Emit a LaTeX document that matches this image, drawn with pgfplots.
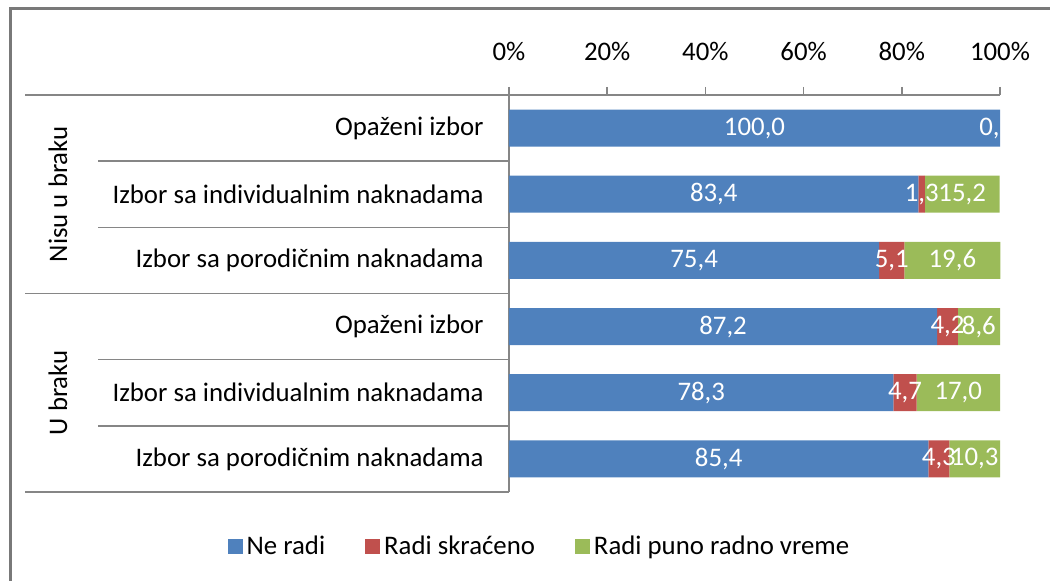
\documentclass[border=0pt]{standalone}
\usepackage{fontspec}
\setmainfont{Carlito}
\usepackage{pgfplots}
\pgfplotsset{compat=1.18}
\definecolor{neradi}{HTML}{4F81BD}
\definecolor{skraceno}{HTML}{C0504D}
\definecolor{puno}{HTML}{9BBB59}
\definecolor{axgray}{HTML}{868686}

\begin{document}
\fontsize{13.4}{16}\selectfont
\begin{tikzpicture}
% page frame, in pixel units of the reference
\begin{scope}[x=0.5pt,y=-0.5pt]
\useasboundingbox (0,0) rectangle (1050,581);
\draw[axgray!90!black, line width=1.5pt] (10,600) -- (10,8.5) -- (1070,8.5);
\end{scope}
\begin{axis}[
  at={(254.5pt,-246pt)}, anchor=south west,
  scale only axis, width=245.5pt, height=198.5pt,
  xbar stacked, bar width=18.5pt,
  xmin=0, xmax=100, ymin=0.5, ymax=6.5,
  clip=false,
  axis x line*=right, axis y line*=left,
  axis line style={axgray, line width=0.8pt, -},
  xtick={0,20,...,100},
  xticklabels={0\%,20\%,40\%,60\%,80\%,100\%},
  xticklabel shift=8.5pt,
  tick align=outside, major tick length=4pt,
  x tick style={axgray, line width=0.8pt},
  ytick={1,...,6}, y tick style={draw=none},
  yticklabels={Izbor sa porodičnim naknadama, Izbor sa individualnim naknadama, Opaženi izbor,
               Izbor sa porodičnim naknadama, Izbor sa individualnim naknadama, Opaženi izbor},
  yticklabel style={xshift=-4pt},
  visualization depends on=rawx \as \rawx,
  nodes near coords={\pgfmathprintnumber[fixed,fixed zerofill,precision=1,use comma,assume math mode=true]{\rawx}},
  every node near coord/.append style={white, anchor=center},
  legend style={at={(0.064,-0.1385)}, anchor=center, draw=none, legend columns=3,
                /tikz/every even column/.append style={column sep=18pt}},
  legend image code/.code={\fill[#1] (0pt,-3.75pt) rectangle (7.5pt,3.75pt);},
  % label of the zero-width segments, cut at the bar end as in the original
  after end axis/.append code={
    \node[white, anchor=east, inner xsep=0pt] at (axis cs:100,6) {0,};
  },
]
\addplot[fill=neradi, draw=none] coordinates {
  (85.4,1) (78.3,2) (87.2,3) (75.4,4) (83.4,5) (100.0,6)};
\addlegendentry{Ne radi}
\addplot[fill=skraceno, draw=none] coordinates {
  (4.3,1) (4.7,2) (4.2,3) (5.1,4) (1.3,5) (0.0,6)};
\addlegendentry{Radi skraćeno}
\addplot[fill=puno, draw=none] coordinates {
  (10.3,1) (17.0,2) (8.6,3) (19.6,4) (15.2,5) (0.0,6)};
\addlegendentry{Radi puno radno vreme}

% category axis grid
\draw[axgray, line width=0.8pt] (axis cs:0,6.5) -- ([xshift=-242pt]axis cs:0,6.5);
\draw[axgray, line width=0.8pt] (axis cs:0,3.5) -- ([xshift=-242pt]axis cs:0,3.5);
\draw[axgray, line width=0.8pt] (axis cs:0,0.5) -- ([xshift=-242pt]axis cs:0,0.5);
\draw[axgray, line width=0.8pt] (axis cs:0,5.5) -- ([xshift=-205.5pt]axis cs:0,5.5);
\draw[axgray, line width=0.8pt] (axis cs:0,4.5) -- ([xshift=-205.5pt]axis cs:0,4.5);
\draw[axgray, line width=0.8pt] (axis cs:0,2.5) -- ([xshift=-205.5pt]axis cs:0,2.5);
\draw[axgray, line width=0.8pt] (axis cs:0,1.5) -- ([xshift=-205.5pt]axis cs:0,1.5);
\node[rotate=90] at ([xshift=-225.5pt]axis cs:0,5) {Nisu u braku};
\node[rotate=90] at ([xshift=-225.5pt]axis cs:0,2) {U braku};
\end{axis}
\end{tikzpicture}
\end{document}
